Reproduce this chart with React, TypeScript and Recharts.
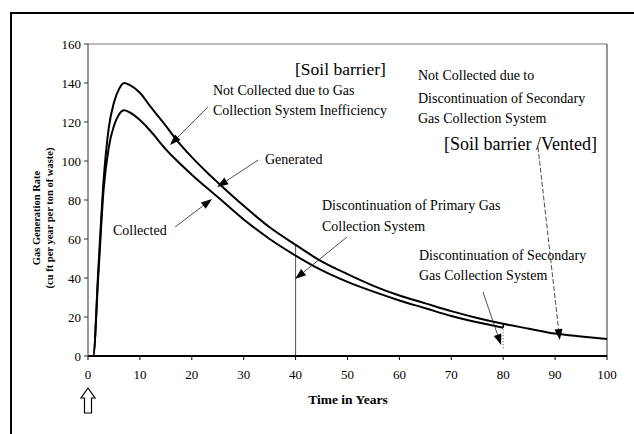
import React from 'react';
import { LineChart, Line, XAxis, YAxis, ReferenceLine } from 'recharts';

// values
const years = [0, 1, 2, 3, 4, 5, 6, 7, 8, 10, 12, 15, 17, 20, 23, 25, 30, 35, 40, 45, 50, 55, 60, 65, 70, 75, 80, 85, 90, 95, 100];
const generated = [0, 0, 45, 90, 117, 130, 137, 140, 139, 135, 128, 118, 111, 102, 94, 89, 77, 66, 57, 48.5, 42, 36, 31, 27, 23, 19.5, 16.5, 14, 11.5, 10, 8.7];
const collected = [0, 0, 42, 85, 107, 118, 124, 126, 125, 121, 115.5, 106, 100.5, 93, 86, 81.5, 70, 60, 51.5, 44, 38, 33, 28.5, 24.5, 20.5, 17.3, 14.5, null, null, null, null];

const xTicks = [0, 10, 20, 30, 40, 50, 60, 70, 80, 90, 100];
const yTicks = [0, 20, 40, 60, 80, 100, 120, 140, 160];

// annotation arrows: [from, tip] in (year, rate)
const arrows = [
    { from: [23.1, 127.7], to: [15.8, 108.2], dashed: false },
    { from: [32.8, 100.5], to: [24.9, 86.7], dashed: false },
    { from: [16.8, 66.2], to: [23.9, 80.5], dashed: false },
    { from: [49.9, 61], to: [39.9, 39.5], dashed: false },
    { from: [76.1, 32.8], to: [79.6, 5.6], dashed: false },
    { from: [86.7, 107.2], to: [90.9, 8.2], dashed: true },
];

const data = years.map((t, i) => ({ t, generated: generated[i], collected: collected[i] }));

const FONT = '"Liberation Serif", "Times New Roman", serif';

function Arrow(props: any) {
    const { x1, y1, x2, y2, dashed } = props;
    const a = Math.atan2(y2 - y1, x2 - x1);
    const len = 11, half = 4;
    const bx = x2 - len * Math.cos(a), by = y2 - len * Math.sin(a);
    const px = -Math.sin(a) * half, py = Math.cos(a) * half;
    return (
        <g>
            <line x1={x1} y1={y1} x2={bx} y2={by} stroke="#222" strokeWidth={0.8} strokeDasharray={dashed ? '5 2' : undefined} />
            <polygon points={`${x2},${y2} ${bx + px},${by + py} ${bx - px},${by - py}`} fill="#000" />
        </g>
    );
}

function Note({ x, y, size = 14, children }: { x: number; y: number; size?: number; children: React.ReactNode }) {
    return (
        <div style={{ position: 'absolute', left: x, top: y - size / 2 - 1, fontSize: size, lineHeight: 1, whiteSpace: 'nowrap', color: '#000' }}>
            {children}
        </div>
    );
}

export default function App() {
    return (
        <div style={{ position: 'fixed', left: 0, top: 0, width: 634, height: 434, background: '#fff', fontFamily: FONT, overflow: 'hidden' }}>
            <div style={{ position: 'absolute', left: 10, top: 12, width: 640, height: 440, borderTop: '2px solid #000', borderLeft: '2px solid #000' }} />

            <LineChart width={634} height={434} data={data} margin={{ top: 44, right: 27, left: 28, bottom: 48 }}>
                <XAxis
                    dataKey="t"
                    type="number"
                    domain={[0, 100]}
                    ticks={xTicks}
                    height={30}
                    tickSize={4}
                    tickMargin={10}
                    axisLine={{ stroke: '#000', strokeWidth: 2 }}
                    tickLine={{ stroke: '#000' }}
                    tick={{ fill: '#000', fontSize: 13, fontFamily: FONT }}
                />
                <YAxis
                    type="number"
                    domain={[0, 160]}
                    ticks={yTicks}
                    width={60}
                    tickSize={4}
                    tickMargin={3}
                    axisLine={{ stroke: '#333' }}
                    tickLine={{ stroke: '#333' }}
                    tick={{ fill: '#000', fontSize: 13, fontFamily: FONT }}
                />
                <ReferenceLine y={160} stroke="#777" />
                <ReferenceLine x={100} stroke="#333" />
                <ReferenceLine segment={[{ x: 40, y: 0 }, { x: 40, y: 57 }]} stroke="#555" strokeWidth={1} />
                <ReferenceLine segment={[{ x: 80, y: 14.5 }, { x: 80, y: 16.5 }]} stroke="#000" strokeWidth={1.5} />
                <ReferenceLine segment={[{ x: 80, y: 4 }, { x: 80, y: 14.5 }]} stroke="#555" strokeWidth={1} strokeDasharray="1 2" />
                <Line type="monotone" dataKey="generated" stroke="#000" strokeWidth={2} dot={false} isAnimationActive={false} />
                <Line type="monotone" dataKey="collected" stroke="#000" strokeWidth={2} dot={false} isAnimationActive={false} connectNulls={false} />
                {arrows.map((a, i) => (
                    <ReferenceLine
                        key={i}
                        segment={[{ x: a.from[0], y: a.from[1] }, { x: a.to[0], y: a.to[1] }]}
                        shape={(p: any) => <Arrow {...p} dashed={a.dashed} />}
                    />
                ))}
            </LineChart>

            <Note x={295} y={71} size={17.5}>[Soil barrier]</Note>
            <Note x={213} y={92}>Not Collected due to Gas</Note>
            <Note x={213} y={112}>Collection System Inefficiency</Note>
            <Note x={265} y={161}>Generated</Note>
            <Note x={113} y={232}>Collected</Note>
            <Note x={322} y={207}>Discontinuation of Primary Gas</Note>
            <Note x={322} y={228}>Collection System</Note>
            <Note x={419} y={257}>Discontinuation of Secondary</Note>
            <Note x={419} y={277}>Gas Collection System</Note>
            <Note x={418} y={77}>Not Collected due to</Note>
            <Note x={418} y={100}>Discontinuation of Secondary</Note>
            <Note x={418} y={120}>Gas Collection System</Note>
            <Note x={444} y={145} size={18}>[Soil barrier /Vented]</Note>

            <div style={{ position: 'absolute', left: 43, top: 218, transform: 'translate(-50%, -50%) rotate(-90deg)', textAlign: 'center', fontSize: 10.5, fontWeight: 'bold', lineHeight: '13px', whiteSpace: 'nowrap' }}>
                Gas Generation Rate<br />(cu ft per year per ton of waste)
            </div>
            <div style={{ position: 'absolute', left: 348, top: 400, transform: 'translate(-50%, -50%)', fontSize: 13.5, fontWeight: 'bold', whiteSpace: 'nowrap' }}>
                Time in Years
            </div>

            <svg style={{ position: 'absolute', left: 78, top: 384 }} width={20} height={32}>
                <polygon points="10,4 17,14 13.5,14 13.5,29 6.5,29 6.5,14 3,14" fill="#fff" stroke="#000" strokeWidth={1.2} />
            </svg>
        </div>
    );
}
